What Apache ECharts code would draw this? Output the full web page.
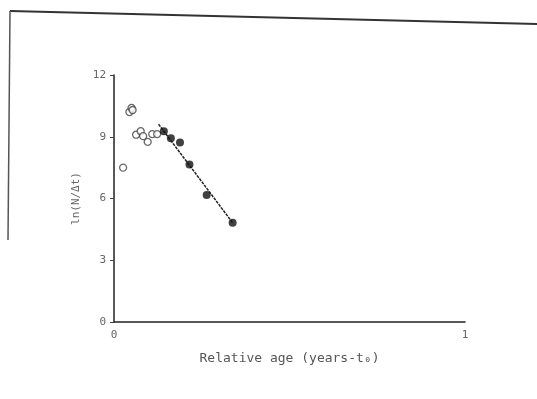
<!DOCTYPE html>
<html><head><meta charset="utf-8">
<script src="https://cdn.jsdelivr.net/npm/echarts@6/dist/echarts.min.js"></script>
<style>html,body{margin:0;padding:0;background:#fff}#c{width:537px;height:399px}</style>
</head><body><div id="c"></div>
<script>
// Open circles (early ages)
var openX = [0.026, 0.044, 0.050, 0.053, 0.063, 0.076, 0.083, 0.096, 0.109, 0.123];
var openY = [7.5, 10.2, 10.4, 10.3, 9.1, 9.27, 9.03, 8.75, 9.13, 9.13];
// Filled circles (fitted range)
var filledX = [0.142, 0.162, 0.188, 0.215, 0.264, 0.338];
var filledY = [9.27, 8.93, 8.72, 7.65, 6.17, 4.82];
// Fitted line end points
var lineX = [0.127, 0.338];
var lineY = [9.61, 4.82];
var yTicks = [0, 3, 6, 9, 12];
var xTickLabels = ['0', '1'];

function zip(a, b) { return a.map(function (v, i) { return [v, b[i]]; }); }

var chart = echarts.init(document.getElementById('c'), null, {renderer: 'canvas'});
var font = 'DejaVu Sans Mono';
chart.setOption({
  animation: false,
  backgroundColor: '#fff',
  grid: {left: 114, right: 72, top: 75, bottom: 77},
  xAxis: {
    type: 'value', min: 0, max: 1, interval: 1,
    axisLine: {lineStyle: {color: '#222', width: 1.5}},
    axisTick: {show: false},
    splitLine: {show: false},
    axisLabel: {color: '#666', fontFamily: font, fontSize: 11, margin: 8,
      formatter: function (v) { return v === 0 ? xTickLabels[0] : (v === 1 ? xTickLabels[1] : ''); }},
    name: 'Relative age (years-t\u2080)',
    nameLocation: 'middle', nameGap: 30,
    nameTextStyle: {color: '#555', fontFamily: font, fontSize: 13}
  },
  yAxis: {
    type: 'value', min: 0, max: 12, interval: 3,
    axisLine: {lineStyle: {color: '#222', width: 1.5}},
    axisTick: {show: true, length: 4, lineStyle: {color: '#444'}},
    splitLine: {show: false},
    axisLabel: {color: '#666', fontFamily: font, fontSize: 11, margin: 8},
    name: 'ln(N/\u0394t)',
    nameLocation: 'middle', nameGap: 22,
    nameTextStyle: {color: '#666', fontFamily: font, fontSize: 11}
  },
  series: [
    {type: 'line', data: zip(lineX, lineY), symbol: 'none',
      lineStyle: {color: '#222', width: 1.5, type: [3, 1]}, z: 1},
    {type: 'scatter', data: zip(openX, openY), symbol: 'circle', symbolSize: 7,
      itemStyle: {color: '#fff', borderColor: '#444', borderWidth: 1.3}, z: 3},
    {type: 'scatter', data: zip(filledX, filledY), symbol: 'circle', symbolSize: 8,
      itemStyle: {color: '#111'}, z: 3}
  ],
  graphic: [
    {type: 'line', shape: {x1: 10, y1: 11, x2: 537, y2: 24}, style: {stroke: '#333', lineWidth: 2}},
    {type: 'line', shape: {x1: 10, y1: 11, x2: 8, y2: 240}, style: {stroke: '#555', lineWidth: 1.5}}
  ]
});
</script></body></html>
